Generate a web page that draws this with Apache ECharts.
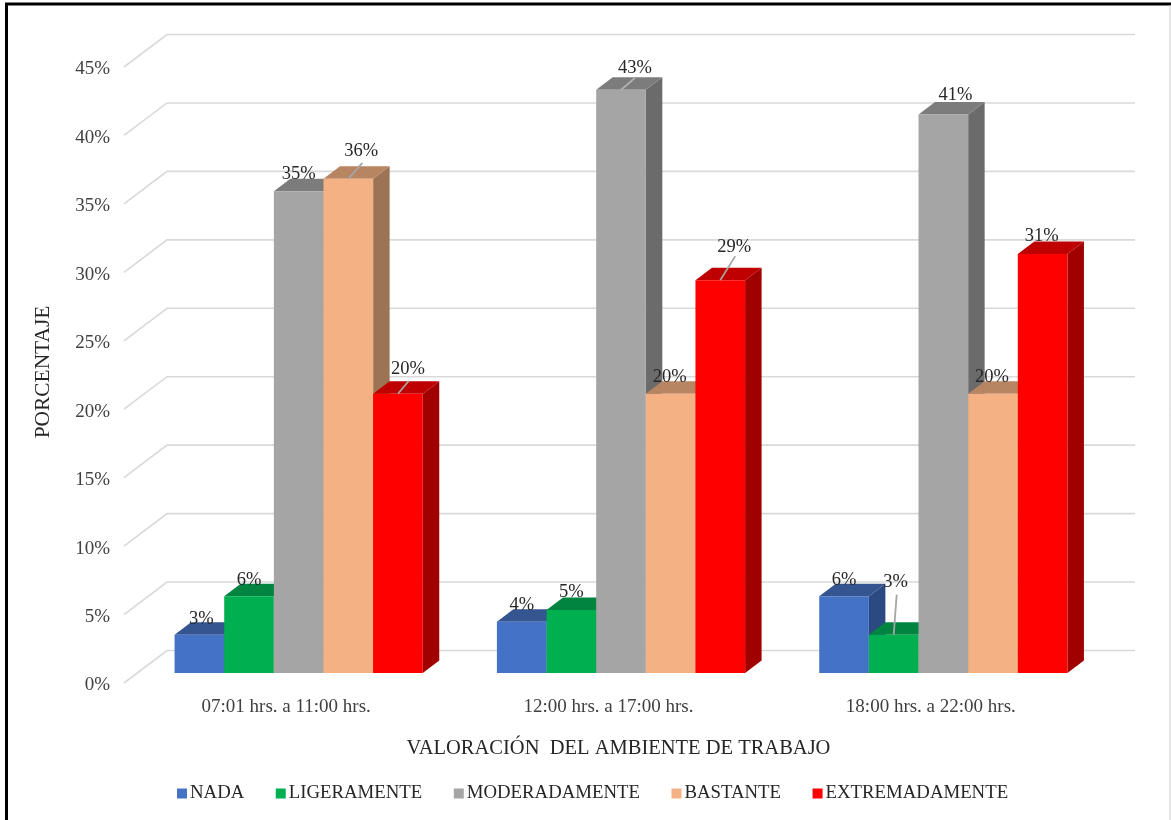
<!DOCTYPE html>
<html><head><meta charset="utf-8">
<style>html,body{margin:0;padding:0;background:#fff}#c{width:1171px;height:820px}</style>
<script src="https://cdn.jsdelivr.net/npm/echarts@6/dist/echarts.min.js"></script>
</head><body><div id="c"></div>
<script>
var categories = ['07:01 hrs. a 11:00 hrs.', '12:00 hrs. a 17:00 hrs.', '18:00 hrs. a 22:00 hrs.'];
var ticks = [0, 5, 10, 15, 20, 25, 30, 35, 40, 45];
var nada = [2.8, 3.75, 5.6];
var ligeramente = [5.6, 4.6, 2.8];
var moderadamente = [35.2, 42.6, 40.8];
var bastante = [36.1, 20.4, 20.4];
var extremadamente = [20.4, 28.7, 30.6];
var seriesNames = ['NADA', 'LIGERAMENTE', 'MODERADAMENTE', 'BASTANTE', 'EXTREMADAMENTE'];
var seriesValues = [nada, ligeramente, moderadamente, bastante, extremadamente];

// layout and style, kept apart from the data
var fronts = ['#4472c4', '#00b050', '#a5a5a5', '#f4b183', '#ff0000'];
var tops = ['#355591', '#008440', '#7c7c7c', '#b88562', '#bf0000'];
var sides = ['#2b4a82', '#006e35', '#6b6b6b', '#9c7454', '#a00000'];
// label offset from bar top centre [dx, dy, leaderEndDx, leaderEndDy] per series / category
var labelOffsets = [
  [[2,-16],[0,-16.5],[0,-16.5]],
  [[0,-16.5],[0,-17.5],[2,-52.5,3,-40]],
  [[0,-17],[14,-21.5,14,-12],[12,-19.5]],
  [[13,-27.5,14,-16],[-1,-16.5],[-1,-16.5]],
  [[10,-24.5,11,-13],[14,-32.5,15,-24],[-1,-17.5]]
];
var font = '"Liberation Serif","Times New Roman",serif';
var depth = [16.5, -12.5], planeShift = [13.5, -10], wallShift = [43, -32.5], wallExtra = 1;
var barShare = 0.154;

function renderWall(params, api) {
  var cs = params.coordSys, v = api.value(0), p = api.coord([0, v]);
  var y = p[1], x0 = cs.x, x1 = x0 + wallShift[0], y1 = y + wallShift[1];
  return {type: 'polyline', silent: true,
    shape: {points: [[x0, y], [x1, y1], [x0 + cs.width + wallShift[0] + wallExtra, y1]]},
    style: {fill: null, stroke: '#d9d9d9', lineWidth: 1.6}};
}
function barRenderer(si) {
  return function (params, api) {
    var ci = api.value(0), val = api.value(1);
    var band = api.size([1, 0])[0], w = band * barShare;
    var base = api.coord([ci, 0]), top = api.coord([ci, val]);
    var cx = base[0] + planeShift[0] + (si - 2) * w;
    var x0 = cx - w / 2, x1 = cx + w / 2;
    var yb = base[1] + planeShift[1], yt = top[1] + planeShift[1];
    var dx = depth[0], dy = depth[1];
    var kids = [
      {type: 'polygon', shape: {points: [[x1, yb], [x1 + dx, yb + dy], [x1 + dx, yt + dy], [x1, yt]]}, style: {fill: sides[si]}},
      {type: 'polygon', shape: {points: [[x0, yt], [x0 + dx, yt + dy], [x1 + dx, yt + dy], [x1, yt]]}, style: {fill: tops[si]}},
      {type: 'rect', shape: {x: x0, y: yt, width: w, height: yb - yt}, style: {fill: fronts[si]}}
    ];
    var o = labelOffsets[si][ci];
    if (o.length > 2) {
      kids.push({type: 'line', z2: 50, shape: {x1: cx, y1: yt, x2: cx + o[2], y2: yt + o[3]},
        style: {stroke: si === 2 ? '#b5b5b5' : '#a6a6a6', lineWidth: 1.8}});
    }
    kids.push({type: 'text', z2: 100, style: {text: Math.round(val) + '%', x: cx + o[0], y: yt + o[1],
      align: 'center', verticalAlign: 'middle', fill: '#262626', font: '18.5px ' + font}});
    return {type: 'group', children: kids};
  };
}
var series = [{
  type: 'custom', name: 'wall', z: 1, silent: true, clip: false,
  renderItem: renderWall, encode: {y: 0}, data: ticks.map(function (t) { return [t]; })
}];
seriesNames.forEach(function (n, si) {
  series.push({
    type: 'custom', name: n, z: 2, clip: false, silent: true,
    itemStyle: {color: fronts[si]},
    renderItem: barRenderer(si),
    encode: {x: 0, y: 1},
    data: seriesValues[si].map(function (v, ci) { return [ci, v]; })
  });
});
var chart = echarts.init(document.getElementById('c'), null, {renderer: 'canvas'});
chart.setOption({
  animation: false,
  backgroundColor: '#ffffff',
  grid: {left: 124, width: 967, top: 67, height: 616, containLabel: false},
  xAxis: {
    type: 'category', data: categories,
    axisLine: {show: false}, axisTick: {show: false}, splitLine: {show: false},
    axisLabel: {color: '#404040', fontFamily: font, fontSize: 19, margin: 14, padding: [1, 0, 0, 2]},
    name: 'VALORACIÓN  DEL AMBIENTE DE TRABAJO', nameLocation: 'middle', nameGap: 55,
    nameTextStyle: {color: '#262626', fontFamily: font, fontSize: 20.5, padding: [0, 0, 0, 22]}
  },
  yAxis: {
    type: 'value', min: 0, max: 45, interval: 5,
    axisLine: {show: false}, axisTick: {show: false}, splitLine: {show: false},
    axisLabel: {margin: 14, formatter: '{a|{value}%}',
      rich: {a: {color: '#404040', fontFamily: font, fontSize: 19, padding: [5, 0, 0, 0]}}},
    name: 'PORCENTAJE', nameLocation: 'middle', nameGap: 70,
    nameTextStyle: {color: '#262626', fontFamily: font, fontSize: 21.4, padding: [0, 0, 0, 6]}
  },
  legend: {
    data: seriesNames, left: 172, top: 779, icon: 'rect', itemWidth: 10, itemHeight: 10, itemGap: 31.5,
    selectedMode: false,
    textStyle: {color: '#262626', fontFamily: font, fontSize: 18.8, padding: [0, 0, 0, -2]}
  },
  graphic: [
    {type: 'line', shape: {x1: 6.5, y1: 4, x2: 6.5, y2: 820}, style: {stroke: '#000', lineWidth: 3}},
    {type: 'line', shape: {x1: 5, y1: 4, x2: 1171, y2: 4}, style: {stroke: '#000', lineWidth: 3}},
    {type: 'line', shape: {x1: 1170, y1: 5, x2: 1170, y2: 820}, style: {stroke: '#c8c8c8', lineWidth: 1}}
  ],
  series: series
});
</script></body></html>
